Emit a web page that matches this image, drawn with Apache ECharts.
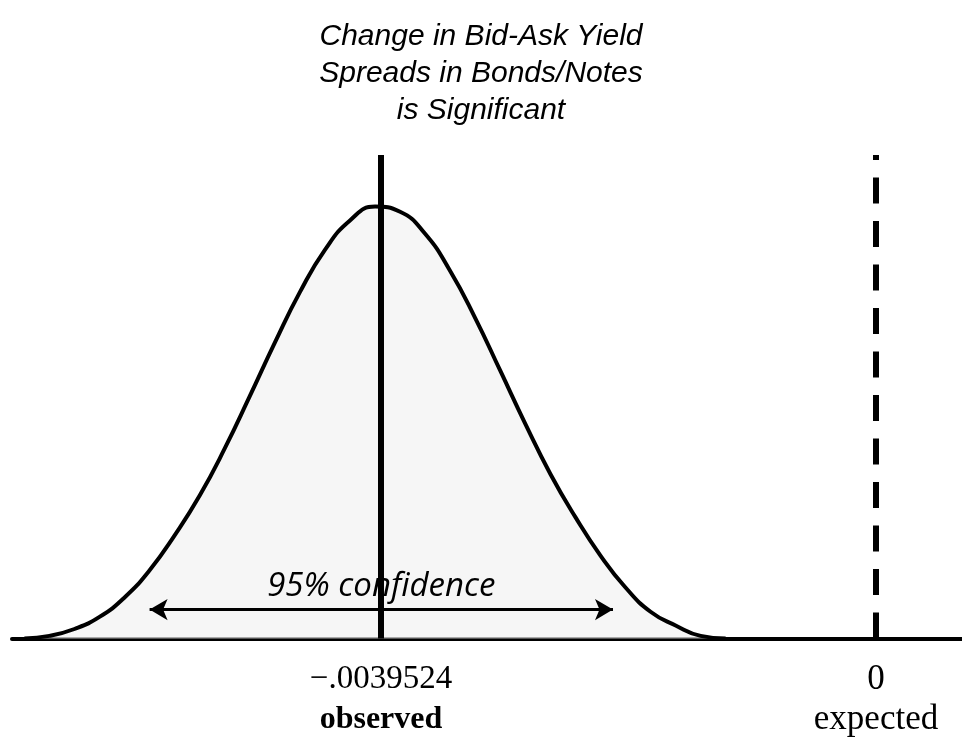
<!DOCTYPE html>
<html>
<head>
<meta charset="utf-8">
<script src="https://cdn.jsdelivr.net/npm/echarts@6/dist/echarts.min.js"></script>
<style>
html, body { margin: 0; padding: 0; background: #fff; }
#chart { width: 962px; height: 737px; }
</style>
</head>
<body>
<div id="chart"></div>
<script>
// points (x value, height relative to the peak)
const curveX = [-0.0068, -0.0066, -0.0064, -0.0062, -0.0060, -0.0058, -0.0056, -0.0054, -0.0052,
  -0.0050, -0.0048, -0.0046, -0.0044, -0.0042, -0.0040, -0.0038, -0.0036, -0.0034,
  -0.0032, -0.0030, -0.0028, -0.0026, -0.0024, -0.0022, -0.0020, -0.0018, -0.0016, -0.0014,
  -0.0012];
const curveY = [0, 0.006, 0.022, 0.050, 0.095, 0.158, 0.239, 0.331, 0.440,
  0.561, 0.685, 0.802, 0.900, 0.968, 1.000, 0.988, 0.937, 0.851,
  0.742, 0.620, 0.497, 0.381, 0.281, 0.192, 0.118, 0.062, 0.030, 0.006,
  0];

const observedValue = -0.0039524;
const expectedValue = 0;
const tickValues = [-0.0039524, 0];
const tickLabels = ['\u2212.0039524', '0'];
const tickNames = ['observed', 'expected'];

// 95% confidence arrow
const ciBounds = [-0.0058, -0.0021];
const ciLevel = 0.067;
const ciLabel = '95% confidence';

const titleLines = ['Change in Bid-Ask Yield', 'Spreads in Bonds/Notes', 'is Significant'];

const yMax = 1.1195;

const chart = echarts.init(document.getElementById('chart'));

const option = {
  animation: false,
  backgroundColor: '#fff',
  title: {
    text: titleLines.join('\n'),
    left: 'center',
    top: 13,
    textStyle: {
      fontFamily: 'Liberation Sans',
      fontStyle: 'italic',
      fontWeight: 'normal',
      fontSize: 30,
      lineHeight: 37,
      color: '#000'
    }
  },
  grid: {
    left: 12,
    right: 0,
    top: 155,
    bottom: 95
  },
  xAxis: {
    type: 'value',
    min: -0.0068987,
    max: 0.0006867,
    splitLine: { show: false },
    axisTick: { show: false },
    axisLine: {
      show: true,
      onZero: false,
      lineStyle: { color: '#000', width: 4 }
    },
    axisLabel: {
      customValues: tickValues,
      margin: 21,
      formatter: function (v) {
        const i = tickValues.indexOf(v);
        if (i < 0) return '';
        if (i === 0) return '{num|' + tickLabels[i] + '}\n{bold|' + tickNames[i] + '}';
        return '{big|' + tickLabels[i] + '}\n{big|' + tickNames[i] + '}';
      },
      rich: {
        num: { fontFamily: 'Liberation Serif', fontSize: 33, lineHeight: 40, color: '#000' },
        bold: { fontFamily: 'Liberation Serif', fontSize: 32, fontWeight: 'bold', lineHeight: 40, color: '#000' },
        big: { fontFamily: 'Liberation Serif', fontSize: 35, lineHeight: 40, color: '#000' }
      }
    }
  },
  yAxis: {
    type: 'value',
    min: 0,
    max: yMax,
    show: false
  },
  series: [
    {
      name: 'distribution',
      type: 'line',
      data: curveX.map((x, i) => [x, curveY[i]]),
      smooth: 0.5,
      symbol: 'none',
      lineStyle: { color: '#000', width: 4 },
      areaStyle: { color: '#f2f2f2' },
      z: 2
    },
    {
      // observed value
      name: 'observed',
      type: 'line',
      data: [[observedValue, 0], [observedValue, yMax]],
      symbol: 'none',
      lineStyle: { color: '#000', width: 6 },
      z: 4
    },
    {
      // expected value (dashed)
      name: 'expected',
      type: 'line',
      data: [[expectedValue, 0], [expectedValue, yMax]],
      symbol: 'none',
      lineStyle: { color: '#000', width: 6, type: [26, 17.5], cap: 'butt' },
      z: 4
    },
    {
      // confidence arrow
      type: 'line',
      data: [],
      markLine: {
        silent: true,
        symbol: ['arrow', 'arrow'],
        symbolSize: [16, 18],
        lineStyle: { color: '#000', width: 3, type: 'solid' },
        label: {
          show: true,
          position: 'insideMiddleTop',
          distance: 6,
          formatter: ciLabel,
          fontFamily: 'Open Sans',
          fontStyle: 'italic',
          fontSize: 33,
          color: '#000'
        },
        data: [[
          { coord: [ciBounds[0], ciLevel] },
          { coord: [ciBounds[1], ciLevel] }
        ]]
      },
      z: 3
    }
  ]
};

chart.setOption(option);
</script>
</body>
</html>
